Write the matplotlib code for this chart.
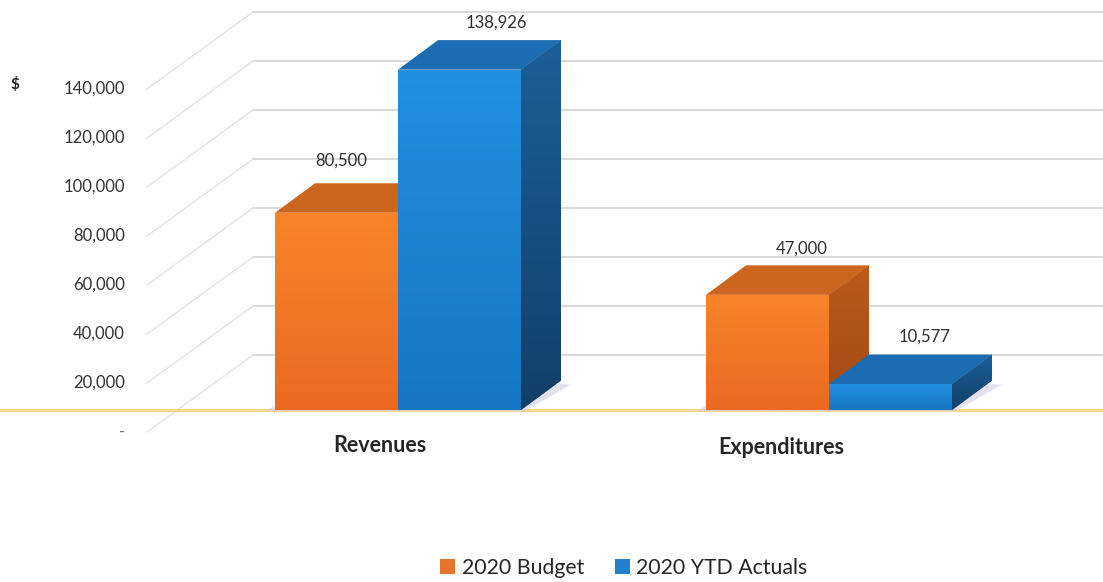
import numpy as np
import matplotlib
matplotlib.use("Agg")
import matplotlib.pyplot as plt
from matplotlib.patches import Polygon, Patch
from matplotlib.colors import LinearSegmentedColormap

plt.rcParams['font.family'] = ['Lato', 'DejaVu Sans']

# ---- data ----
categories = ["Revenues", "Expenditures"]
series_names = ["2020 Budget", "2020 YTD Actuals"]
budget = [80500, 47000]
actuals = [138926, 10577]
tick_values = [0, 20000, 40000, 60000, 80000, 100000, 120000, 140000]
tick_labels = ["-", "20,000", "40,000", "60,000", "80,000", "100,000", "120,000", "140,000"]

# ---- geometry helpers (pixel-based layout of the pseudo-3D view) ----
W, H = 1103, 582
PX_PER_UNIT_X = 431.0            # pixels between category centres
PX_PER_VALUE = 49.0 / 20000.0    # pixels per dollar
X0_PX, Y0_PX = 398.0, 410.0      # pixel of first category centre / bar base


def xu(px):
    """horizontal pixel position -> x data units"""
    return (px - X0_PX) / PX_PER_UNIT_X


def dxu(dpx):
    """horizontal pixel distance -> x data units"""
    return dpx / PX_PER_UNIT_X


def vu(dpy):
    """vertical pixel distance -> dollars"""
    return dpy / PX_PER_VALUE


bar_w = dxu(123)
depth_x = dxu(40)
depth_y = vu(29.5)
floor_front = -vu(22)    # front edge of the floor (axis labels)
back_wall = vu(55)       # back wall offset

series_colors = [
    dict(front=("#F7842A", "#EB6922"), cap="#CC661F", side=("#BC5A1B", "#A04A15"), legend="#E8742A"),
    dict(front=("#2290DF", "#1676C4"), cap="#1B6CB2", side=("#1B5F99", "#123F69"), legend="#2280CC"),
]

fig = plt.figure(figsize=(W / 100, H / 100), dpi=100)
ax = fig.add_axes([0, 0, 1, 1])
ax.set_xlim(xu(0), xu(W))
ax.set_ylim(-vu(H - Y0_PX), vu(Y0_PX))
ax.axis("off")

grid_col = "#D9D9D9"
diag_col = "#E4E4E4"
x_label_right = xu(125)
x_diag0, x_diag1 = xu(147), xu(253)

# back wall gridlines, floor diagonals and axis labels
for v, lab in zip(tick_values, tick_labels):
    yb = v + back_wall
    ax.plot([x_diag1, xu(W)], [yb, yb], color=grid_col, lw=1.4, zorder=1)
    ax.plot([x_diag0, x_diag1], [v + floor_front, yb], color=diag_col, lw=1.1, zorder=1)
    ax.text(x_label_right, v + floor_front, lab, ha="right", va="center",
            fontsize=12, color="#333333" if v else "#777777", zorder=5)

ax.text(xu(15), 140000 + floor_front + vu(4), "$", ha="center", va="center",
        fontsize=11, fontweight="bold", color="#222222")

# floor front edge line
ax.plot([xu(0), xu(W)], [0, 0], color="#FAD68A", lw=2.2, zorder=2)


def grad(c_top, c_bot):
    cmap = LinearSegmentedColormap.from_list("g", [c_bot, c_top])
    return cmap, np.linspace(0, 1, 64).reshape(-1, 1)


# bars drawn series by series so the right-hand bar covers the left one's side
for s, values in enumerate([budget, actuals]):
    col = series_colors[s]
    for i, val in enumerate(values):
        x0 = i - bar_w + s * bar_w
        x1 = x0 + bar_w
        # soft base shadow
        shadow = Polygon([(x0 - dxu(9), -vu(1)), (x1 + dxu(4), -vu(1)),
                          (x1 + depth_x + dxu(10), depth_y - vu(4)),
                          (x0 + depth_x, depth_y)],
                         closed=True, facecolor="#D3CDE4", edgecolor="none", alpha=0.6, zorder=2)
        ax.add_patch(shadow)
        # front face
        bar = ax.bar(x0, val, width=bar_w, bottom=0, align="edge",
                     color=col["front"][1], edgecolor="none", zorder=3 + s)[0]
        cmap, g = grad(*col["front"])
        im = ax.imshow(g, cmap=cmap, extent=[x0, x1, 0, val], origin="lower",
                       aspect="auto", zorder=3 + s, interpolation="bilinear")
        im.set_clip_path(bar)
        # top face
        ax.add_patch(Polygon([(x0, val), (x1, val), (x1 + depth_x, val + depth_y),
                              (x0 + depth_x, val + depth_y)], closed=True,
                             facecolor=col["cap"], edgecolor="none", zorder=3 + s))
        # side face with gradient
        side = Polygon([(x1, 0), (x1 + depth_x, depth_y), (x1 + depth_x, val + depth_y),
                        (x1, val)], closed=True, facecolor=col["side"][0],
                       edgecolor="none", zorder=3 + s)
        ax.add_patch(side)
        cmap, g = grad(*col["side"])
        im2 = ax.imshow(g, cmap=cmap, extent=[x1, x1 + depth_x, 0, val + depth_y],
                        origin="lower", aspect="auto", zorder=3 + s, interpolation="bilinear")
        im2.set_clip_path(side)

# value labels, offset (in pixels) from the centre of each bar's front top edge
label_offset_px = [[(5, 52), (37, 47)], [(34, 46), (34, 47)]]
for s, values in enumerate([budget, actuals]):
    for i, val in enumerate(values):
        ox, oy = label_offset_px[i][s]
        xc = i - bar_w / 2 + s * bar_w + dxu(ox)
        ax.text(xc, val + vu(oy), f"{val:,}", ha="center", va="center",
                fontsize=12, color="#2E2E2E", zorder=6)

# category labels
cat_offset_px = [(-18, 35), (-48, 37)]
for i, c in enumerate(categories):
    ox, oy = cat_offset_px[i]
    ax.text(i + dxu(ox), -vu(oy), c, ha="center", va="center",
            fontsize=15.5, fontweight="bold", color="#262626", zorder=6)

# legend
handles = [Patch(facecolor=series_colors[s]["legend"], edgecolor="none") for s in range(2)]
fig.legend(handles, series_names, loc="center", bbox_to_anchor=(0.5655, 1 - 568 / H),
           ncol=2, frameon=False, fontsize=15.3, handlelength=0.7, handleheight=0.7,
           handletextpad=0.3, columnspacing=1.45, labelcolor="#262626")

fig.savefig("out.png", dpi=100)
